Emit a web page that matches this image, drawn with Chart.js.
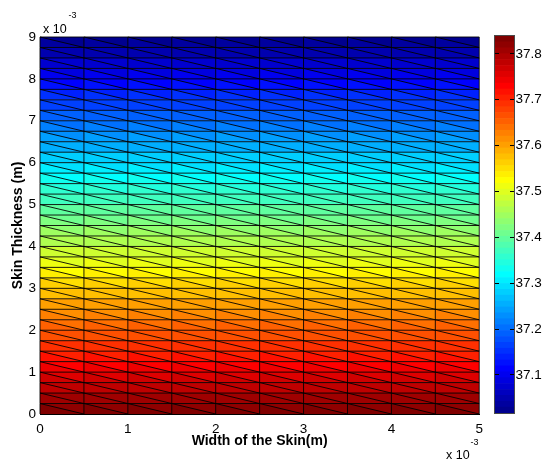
<!DOCTYPE html>
<html><head><meta charset="utf-8">
<script src="https://cdn.jsdelivr.net/npm/chart.js@4.4.1/dist/chart.umd.min.js"></script>
<style>
html,body{margin:0;padding:0;background:#fff;}
#wrap{position:relative;width:544px;height:460px;overflow:hidden;background:#fff;font-family:"Liberation Sans",Arial,Helvetica,sans-serif;}
#mainBox{position:absolute;left:0;top:0;width:490px;height:460px;}
#cbBox{position:absolute;left:490px;top:0;width:54px;height:460px;}
.exp{position:absolute;white-space:nowrap;color:#000;line-height:1;}
</style></head><body>
<div id="wrap">
  <div id="mainBox"><canvas id="main"></canvas></div>
  <div id="cbBox"><canvas id="cb"></canvas></div>
  <span class="exp" style="left:43px;top:22.5px;font-size:12.5px">x 10</span>
  <span class="exp" style="left:68.5px;top:11px;font-size:9px">-3</span>
  <span class="exp" style="left:446px;top:449px;font-size:12.5px">x 10</span>
  <span class="exp" style="left:470.5px;top:438px;font-size:9px">-3</span>
</div>
<script>
// ---- data (x and y in units of 1e-3 m, temperature in deg C) ----
const xNodes = [0, 0.5, 1, 1.5, 2, 2.5, 3, 3.5, 4, 4.5, 5];
const yNodes = [0, 0.25, 0.5, 0.75, 1, 1.25, 1.5, 1.75, 2, 2.25, 2.5, 2.75, 3, 3.25, 3.5, 3.75,
                4, 4.25, 4.5, 4.75, 5, 5.25, 5.5, 5.75, 6, 6.25, 6.5, 6.75, 7, 7.25, 7.5, 7.75,
                8, 8.25, 8.5, 8.75, 9];
const nodeTemps = [37.839, 37.816, 37.793, 37.770, 37.748, 37.725, 37.702, 37.679, 37.656, 37.633,
                   37.611, 37.588, 37.565, 37.542, 37.519, 37.496, 37.474, 37.451, 37.428, 37.405,
                   37.382, 37.359, 37.337, 37.314, 37.291, 37.268, 37.245, 37.222, 37.200, 37.177,
                   37.154, 37.131, 37.108, 37.085, 37.063, 37.040, 37.017];
const xTicks = [0, 1, 2, 3, 4, 5];
const yTicks = [0, 1, 2, 3, 4, 5, 6, 7, 8, 9];
const cbTicks = [37.1, 37.2, 37.3, 37.4, 37.5, 37.6, 37.7, 37.8];
const cbRange = [37.017, 37.839];
const xTitle = 'Width of the Skin(m)';
const yTitle = 'Skin Thickness (m)';

// ---- MATLAB jet(64) colormap ----
function jet64() {
  const m = 64, n = 16, u = [];
  for (let i = 1; i <= n; i++) u.push(i / n);
  for (let i = 1; i < n; i++) u.push(1);
  for (let i = n; i >= 1; i--) u.push(i / n);
  const L = u.length, J = Array.from({length: m}, () => [0, 0, 0]);
  const g0 = Math.ceil(n / 2) - (m % 4 === 1 ? 1 : 0);
  const gs = [], rs = [], bs = [];
  for (let k = 1; k <= L; k++) {
    const g = g0 + k;
    if (g <= m) gs.push(g);
    if (g + n <= m) rs.push(g + n);
    if (g - n >= 1) bs.push(g - n);
  }
  rs.forEach((r, i) => J[r - 1][0] = u[i]);
  gs.forEach((g, i) => J[g - 1][1] = u[i]);
  bs.forEach((b, i) => J[b - 1][2] = u[L - bs.length + i]);
  return J.map(([r, g, b]) => `rgb(${Math.round(r * 255)},${Math.round(g * 255)},${Math.round(b * 255)})`);
}
const JET = jet64();
function colorFor(v) {
  const t = (v - cbRange[0]) / (cbRange[1] - cbRange[0]);
  return JET[Math.min(63, Math.max(0, Math.floor(t * 64)))];
}

const FONT = '"Liberation Sans", Arial, Helvetica, sans-serif';
const LINE = 'rgba(0,0,0,0.88)';

// ---- mesh datasets: per element row, lower triangles (band) + upper triangles (sawtooth) ----
const meshSets = [];
const nx = xNodes.length - 1;
for (let r = 0; r < yNodes.length - 1; r++) {
  const yb = yNodes[r], yt = yNodes[r + 1];
  const Tb = nodeTemps[r], Tt = nodeTemps[r + 1];
  const lowerVal = (Tt + 2 * Tb) / 3;
  const upperVal = (2 * Tt + Tb) / 3;
  // lower triangles: whole band filled, top edge stroked
  meshSets.push({
    data: [{x: xNodes[0], y: yt}, {x: xNodes[nx], y: yt}],
    fill: {value: yb},
    backgroundColor: colorFor(lowerVal),
    borderColor: LINE, borderWidth: 1,
    showLine: true, pointRadius: 0, order: 1, clip: false
  });
  // upper triangles: sawtooth of diagonals + verticals
  const saw = [];
  for (let i = 0; i <= nx; i++) {
    saw.push({x: xNodes[i], y: yb});
    saw.push({x: xNodes[i], y: yt});
  }
  meshSets.push({
    data: saw,
    fill: {value: yt},
    backgroundColor: colorFor(upperVal),
    borderColor: LINE, borderWidth: 1,
    showLine: true, pointRadius: 0, order: 0, clip: false
  });
}

new Chart(document.getElementById('main'), {
  type: 'scatter',
  data: {datasets: meshSets},
  options: {
    responsive: true, maintainAspectRatio: false, animation: false,
    layout: {padding: {top: 37, right: 8, bottom: 0, left: 0}},
    plugins: {legend: {display: false}, tooltip: {enabled: false}, filler: {drawTime: 'beforeDatasetsDraw'}},
    elements: {line: {tension: 0}},
    scales: {
      x: {
        type: 'linear', min: 0, max: 5, position: 'bottom',
        afterFit: s => { s.height = 46; },
        afterBuildTicks: s => { s.ticks = xTicks.map(v => ({value: v})); },
        grid: {display: true, drawOnChartArea: false, drawTicks: false},
        border: {display: true, color: '#000', width: 1},
        ticks: {autoSkip: false, maxRotation: 0, padding: 7, color: '#000', font: {family: FONT, size: 13.5}},
        title: {display: true, text: xTitle, color: '#000', padding: {top: 0, bottom: 10.5}, font: {family: FONT, size: 14, weight: 'bold'}}
      },
      y: {
        type: 'linear', min: 0, max: 9, position: 'left',
        afterFit: s => { s.width = 40; },
        afterBuildTicks: s => { s.ticks = yTicks.map(v => ({value: v})); },
        grid: {display: true, drawOnChartArea: false, drawTicks: false},
        border: {display: true, color: '#000', width: 1},
        ticks: {autoSkip: false, padding: 4, color: '#000', font: {family: FONT, size: 13.5}},
        title: {display: true, text: yTitle, color: '#000', padding: {top: 10, bottom: 0}, font: {family: FONT, size: 14, weight: 'bold'}}
      }
    }
  }
});

// ---- colorbar ----
const cbSets = JET.map((c, i) => {
  const step = (cbRange[1] - cbRange[0]) / JET.length;
  return {
    data: [[cbRange[0] + i * step, cbRange[0] + (i + 1) * step]],
    backgroundColor: c, borderWidth: 0, grouped: false,
    barPercentage: 1, categoryPercentage: 1
  };
});
const frame = {
  id: 'frame',
  afterDatasetsDraw(c) {
    const a = c.chartArea, ctx = c.ctx;
    ctx.save();
    ctx.strokeStyle = '#4a4a4a'; ctx.lineWidth = 1;
    ctx.strokeRect(Math.round(a.left) - 0.5, Math.round(a.top) - 0.5,
                   Math.round(a.right) - Math.round(a.left) + 1, Math.round(a.bottom) - Math.round(a.top) + 1);
    ctx.restore();
  }
};
new Chart(document.getElementById('cb'), {
  type: 'bar',
  data: {labels: ['T'], datasets: cbSets},
  options: {
    responsive: true, maintainAspectRatio: false, animation: false,
    layout: {padding: {top: 36, right: 0, bottom: 47, left: 5}},
    plugins: {legend: {display: false}, tooltip: {enabled: false}},
    scales: {
      x: {display: false},
      y: {
        min: cbRange[0], max: cbRange[1], position: 'right',
        afterFit: s => { s.width = 30; },
        afterBuildTicks: s => { s.ticks = cbTicks.map(v => ({value: v})); },
        grid: {display: true, drawOnChartArea: true, drawTicks: false, color: '#000', lineWidth: 1, z: 1},
        border: {display: false, dash: [4, 11]},
        ticks: {padding: 1.5, color: '#000', font: {family: FONT, size: 13.5}, callback: v => Number(v).toFixed(1)}
      }
    }
  },
  plugins: [frame]
});
</script>
</body></html>
